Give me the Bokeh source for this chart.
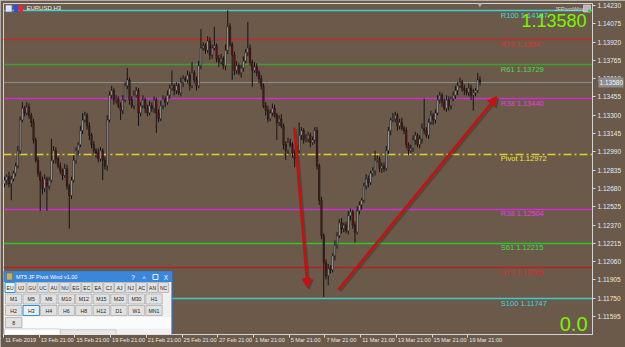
import numpy as np
from bokeh.plotting import figure
from bokeh.models import (Range1d, LinearAxis, FixedTicker, PrintfTickFormatter,
                          Arrow, NormalHead, ColumnDataSource)
from bokeh.core.properties import value
from bokeh.embed import file_html
from bokeh.resources import INLINE

# ---------------- data ----------------
symbol = "EURUSD,H3"
first_open = 1.1272
closes = [
    1.1275, 1.1278, 1.1272, 1.1276, 1.1281, 1.1287, 1.1300, 1.1326, 1.1336, 1.1332,
    1.1337, 1.1330, 1.1324, 1.1309, 1.1292, 1.1281, 1.1275, 1.1268, 1.1276, 1.1270,
    1.1275, 1.1292, 1.1300, 1.1293, 1.1287, 1.1283, 1.1279, 1.1285, 1.1270, 1.1262,
    1.1275, 1.1292, 1.1300, 1.1305, 1.1317, 1.1326, 1.1330, 1.1321, 1.1313, 1.1305,
    1.1300, 1.1298, 1.1293, 1.1300, 1.1292, 1.1287, 1.1326, 1.1347, 1.1351, 1.1343,
    1.1344, 1.1338, 1.1334, 1.1343, 1.1355, 1.1360, 1.1343, 1.1338, 1.1347, 1.1351,
    1.1332, 1.1338, 1.1343, 1.1336, 1.1332, 1.1338, 1.1336, 1.1343, 1.1332, 1.1327,
    1.1338, 1.1344, 1.1341, 1.1347, 1.1353, 1.1355, 1.1351, 1.1355, 1.1349, 1.1358,
    1.1361, 1.1360, 1.1364, 1.1355, 1.1366, 1.1360, 1.1355, 1.1372, 1.1387, 1.1389,
    1.1385, 1.1393, 1.1381, 1.1387, 1.1389, 1.1378, 1.1375, 1.1378, 1.1372, 1.1385,
    1.1405, 1.1390, 1.1381, 1.1368, 1.1372, 1.1366, 1.1370, 1.1376, 1.1383, 1.1387,
    1.1375, 1.1368, 1.1371, 1.1366, 1.1361, 1.1355, 1.1338, 1.1334, 1.1327, 1.1332,
    1.1336, 1.1330, 1.1324, 1.1327, 1.1321, 1.1305, 1.1300, 1.1307, 1.1305, 1.1298,
    1.1293, 1.1300, 1.1313, 1.1317, 1.1309, 1.1310, 1.1313, 1.1307, 1.1309, 1.1317,
    1.1287, 1.1258, 1.1228, 1.1205, 1.1194, 1.1200, 1.1199, 1.1211, 1.1220, 1.1228,
    1.1239, 1.1234, 1.1237, 1.1232, 1.1245, 1.1248, 1.1237, 1.1231, 1.1249, 1.1254,
    1.1258, 1.1270, 1.1276, 1.1273, 1.1281, 1.1283, 1.1292, 1.1293, 1.1285, 1.1287,
    1.1285, 1.1300, 1.1317, 1.1326, 1.1327, 1.1330, 1.1321, 1.1324, 1.1319, 1.1317,
    1.1305, 1.1300, 1.1302, 1.1309, 1.1313, 1.1305, 1.1310, 1.1319, 1.1317, 1.1313,
    1.1324, 1.1330, 1.1326, 1.1332, 1.1343, 1.1347, 1.1341, 1.1336, 1.1343, 1.1338,
    1.1344, 1.1347, 1.1351, 1.1355, 1.1358, 1.1353, 1.1351, 1.1349, 1.1353, 1.1347,
    1.1349, 1.1351, 1.1360, 1.1358,
]
wick_up_pips = [
    3, 2, 4, 3, 2, 3, 4, 3, 5, 2,
    4, 3, 2, 3, 2, 3, 2, 3, 4, 2,
    3, 18, 4, 3, 2, 3, 2, 4, 3, 2,
    3, 4, 3, 2, 4, 6, 3, 2, 3, 2,
    3, 2, 4, 3, 2, 3, 4, 3, 4, 2,
    3, 2, 3, 4, 3, 10, 2, 3, 4, 3,
    2, 3, 4, 2, 3, 4, 3, 3, 2, 3,
    4, 3, 2, 4, 3, 13, 2, 3, 2, 4,
    3, 2, 4, 3, 9, 2, 3, 4, 16, 3,
    2, 4, 3, 3, 16, 2, 3, 4, 2, 5,
    14, 3, 2, 3, 4, 2, 3, 4, 3, 22,
    3, 2, 4, 3, 2, 3, 2, 3, 4, 3,
    4, 3, 2, 3, 4, 2, 3, 4, 3, 2,
    3, 4, 11, 3, 2, 4, 3, 2, 3, 3,
    3, 2, 3, 2, 3, 4, 3, 2, 4, 3,
    3, 4, 2, 3, 4, 3, 2, 3, 4, 3,
    2, 3, 4, 3, 2, 3, 8, 3, 2, 3,
    3, 4, 3, 2, 5, 3, 2, 3, 4, 2,
    3, 2, 3, 4, 3, 2, 3, 4, 25, 3,
    3, 4, 2, 3, 4, 3, 2, 3, 4, 3,
    2, 3, 4, 3, 4, 2, 3, 2, 4, 3,
    3, 2, 6, 3,
]
wick_dn_pips = [
    3, 4, 3, 14, 2, 3, 2, 3, 2, 3,
    2, 3, 4, 3, 2, 3, 26, 5, 3, 21,
    3, 2, 3, 4, 2, 3, 4, 2, 3, 28,
    3, 2, 3, 4, 2, 3, 2, 3, 4, 3,
    2, 4, 3, 2, 17, 3, 4, 2, 3, 4,
    3, 2, 8, 3, 2, 3, 4, 2, 3, 2,
    11, 3, 2, 4, 3, 2, 3, 4, 17, 3,
    2, 3, 4, 2, 3, 2, 4, 3, 2, 3,
    4, 2, 3, 4, 2, 3, 4, 2, 3, 2,
    3, 2, 4, 3, 2, 3, 4, 2, 3, 4,
    3, 2, 21, 4, 3, 2, 4, 3, 2, 3,
    3, 14, 2, 3, 4, 3, 2, 4, 3, 2,
    3, 2, 15, 3, 2, 4, 8, 3, 2, 4,
    7, 3, 2, 4, 3, 2, 3, 4, 2, 3,
    3, 4, 3, 29, 3, 8, 3, 2, 4, 3,
    2, 4, 3, 2, 3, 4, 3, 9, 2, 3,
    4, 2, 3, 4, 2, 3, 4, 2, 3, 4,
    3, 2, 3, 4, 2, 3, 4, 3, 2, 3,
    3, 4, 2, 3, 4, 2, 3, 4, 3, 2,
    3, 2, 4, 3, 2, 3, 4, 2, 3, 4,
    3, 2, 3, 4, 2, 3, 4, 2, 3, 4,
    13, 3, 2, 3,
]
current_price = 1.13580
spread = 0.0

price_ticks = [1.11595, 1.11750, 1.11905, 1.12060, 1.12215, 1.12370, 1.12525, 1.12680,
               1.12835, 1.12990, 1.13145, 1.13300, 1.13455, 1.13610, 1.13765, 1.13920,
               1.14075, 1.14230]
time_labels = ["11 Feb 2019", "13 Feb 21:00", "15 Feb 21:00", "19 Feb 21:00", "21 Feb 21:00",
               "25 Feb 21:00", "27 Feb 21:00", "1 Mar 21:00", "5 Mar 21:00", "7 Mar 21:00",
               "11 Mar 21:00", "13 Mar 21:00", "15 Mar 21:00", "19 Mar 21:00"]
time_label_bars = [0, 16, 32, 48, 64, 80, 96, 112, 128, 144, 160, 176, 192, 208]

level_texts = ["R100 1.14187", "R78 1.1394", "R61 1.13729", "R38 1.13440", "Pivot 1.12972",
               "R38 1.12504", "S61 1.12215", "S78 1.12009", "S100 1.11747"]
level_values = [1.14187, 1.13940, 1.13729, 1.13440, 1.12972, 1.12504, 1.12215, 1.12009, 1.11747]

arrow_x0 = [129.8, 149.6]
arrow_y0 = [1.13196, 1.11824]
arrow_x1 = [135.7, 220.5]
arrow_y1 = [1.11841, 1.13459]

pair_buttons = ["EU", "UJ", "GU", "UC", "AU", "NU", "EG", "EC", "EA", "CJ", "AJ", "NJ", "AC", "AN", "NC"]
period_row1 = ["M1", "M5", "M6", "M10", "M12", "M15", "M20", "M30", "H1"]
period_row2 = ["H2", "H3", "H4", "H6", "H8", "H12", "D1", "W1", "MN1"]
extra_row = ["8"]
dialog_title = "MT5 JF Pivot Wind v1.00"
indicator_name = "JFPivotWind"

# ---------------- styles ----------------
BROWN = "#6B5A4A"
FONT = "Liberation Sans"
LEVEL_LINE = ["#3ED0D0", "#B83026", "#3E9E30", "#D02ED0", "#E6D22A", "#D02ED0", "#2EC42E", "#B82020", "#3ECACA"]
LEVEL_TEXT = ["#40D8D8", "#D23A30", "#50DA50", "#E23CE2", "#F2E446", "#E23CE2", "#46DA46", "#D42C2C", "#40D8D8"]
RED = "#C81010"

FW, FH = 591, 331
p = figure(width=625, height=347, x_range=Range1d(-0.45, 263.4), y_range=Range1d(1.11443, 1.14247),
           output_backend="svg", toolbar_location=None, x_axis_location=None, y_axis_location=None,
           background_fill_color=BROWN, border_fill_color=BROWN,
           min_border_left=3, min_border_top=3, min_border_right=31, min_border_bottom=13)
p.grid.visible = False
p.outline_line_color = "#D4D4D4"
p.outline_line_width = 1
p.styles = {"outline": "2px solid #C9C9C9", "outline-offset": "-2px"}
p.extra_x_ranges = {"px": Range1d(0, FW)}
p.extra_y_ranges = {"px": Range1d(FH, 0)}

# axes
yax = LinearAxis(ticker=FixedTicker(ticks=price_ticks, minor_ticks=[]),
                 formatter=PrintfTickFormatter(format="%.5f"),
                 major_label_text_font=FONT, major_label_text_font_size="6.5px",
                 major_label_text_color="#E8E8E8", major_tick_out=3, major_tick_in=0,
                 minor_tick_out=0, minor_tick_in=0, axis_line_color="#D4D4D4",
                 major_tick_line_color="#D4D4D4", major_label_standoff=2)
p.add_layout(yax, "right")

# current price tag: an outer axis whose single thick inward tick forms the grey box,
# with its label pulled back over the price scale
tag_ax = LinearAxis(ticker=FixedTicker(ticks=[current_price], minor_ticks=[]),
                    formatter=PrintfTickFormatter(format="%.5f"),
                    major_label_text_font=FONT, major_label_text_font_size="6.5px",
                    major_label_text_color="#F4F4F4", major_tick_out=0, major_tick_in=25,
                    major_tick_line_width=10, major_tick_line_color="#8C8C8C",
                    major_tick_line_cap="butt",
                    minor_tick_out=0, minor_tick_in=0, axis_line_color=None,
                    major_label_standoff=-24)
p.add_layout(tag_ax, "right")

tick_pos = [b - 0.45 for b in time_label_bars]
xt = LinearAxis(ticker=FixedTicker(ticks=tick_pos, minor_ticks=[]),
                major_label_text_font_size="1px", major_label_text_alpha=0,
                major_tick_out=3, major_tick_in=0, minor_tick_out=0, minor_tick_in=0,
                axis_line_color=None, major_tick_line_color="#D4D4D4", major_label_standoff=0)
p.add_layout(xt, "below")

CW = {" ": 0.278, ":": 0.278, "F": 0.611, "e": 0.556, "b": 0.556, "M": 0.833, "a": 0.556, "r": 0.333}
TFS = 5.6
centers, overrides = [], {}
for lab, tp in zip(time_labels, tick_pos):
    w = sum(CW.get(ch, 0.556) for ch in lab) * TFS
    cpos = round(tp + (w / 2 + 1.5) / 2.24, 3)
    centers.append(cpos)
    overrides[cpos] = lab
xl = LinearAxis(ticker=FixedTicker(ticks=centers, minor_ticks=[]), major_label_overrides=overrides,
                major_label_text_font=FONT, major_label_text_font_size=f"{TFS}px",
                major_label_text_color="#E6E6E6", major_tick_out=0, major_tick_in=0,
                minor_tick_out=0, minor_tick_in=0, axis_line_color=None,
                major_tick_line_color=None, major_label_standoff=-1)
p.add_layout(xl, "below")

# level lines
solid_vals = [v for i, v in enumerate(level_values) if i != 4]
solid_cols = [c for i, c in enumerate(LEVEL_LINE) if i != 4]
p.hspan(y=solid_vals, line_color=solid_cols, line_width=1.3)
p.hspan(y=[level_values[4]], line_color=LEVEL_LINE[4], line_width=1.3, line_dash="8 3 2 3")
p.hspan(y=[current_price], line_color="#8E8E8E", line_width=1)

# candles
n = len(closes)
idx = np.arange(n)
c = np.array(closes)
o = np.array([first_open] + closes[:-1])
pip = 0.0001
hi = np.maximum(o, c) + np.array(wick_up_pips) * pip
lo = np.minimum(o, c) - np.array(wick_dn_pips) * pip
src = ColumnDataSource(dict(x=idx, top=np.maximum(o, c), bottom=np.minimum(o, c), high=hi, low=lo,
                            fill=["#D4D4D4" if cc >= oo else "#7A1212" for oo, cc in zip(o, c)]))
p.segment(x0="x", y0="high", x1="x", y1="low", source=src, line_color="#141414", line_width=1)
p.vbar(x="x", top="top", bottom="bottom", width=0.62, fill_color="fill", line_color="#141414",
       line_width=0.6, source=src)

# level labels
p.text(x=[499] * len(level_texts), y=level_values, text=level_texts, x_range_name="px",
       text_color=LEVEL_TEXT, text_font=value(FONT), text_font_size="7.5px",
       text_baseline="top", y_offset=0)

# big price + spread
p.text(x=[585], y=[17], text=[f"{current_price:.5f}"], x_range_name="px", y_range_name="px",
       text_color="#7CF200", text_font=value(FONT), text_font_size="18px",
       text_align="right", text_baseline="alphabetic")
p.text(x=[586], y=[320], text=[f"{spread:.1f}"], x_range_name="px", y_range_name="px",
       text_color="#7CF200", text_font=value(FONT), text_font_size="20px",
       text_align="right", text_baseline="alphabetic")

# indicator name + icon top right
p.text(x=[553], y=[5], text=[indicator_name], x_range_name="px", y_range_name="px",
       text_color="#D8D8D8", text_font=value(FONT), text_font_size="5.5px",
       text_align="left", text_baseline="middle")
p.quad(left=[582], right=[589], top=[1.5], bottom=[8.5], x_range_name="px", y_range_name="px",
       fill_color="#B8B8B8", line_color="#E0E0E0", line_width=0.6)
p.scatter(x=[588], y=[7.5], x_range_name="px", y_range_name="px", size=3.5,
          fill_color="#3CC83C", line_color=None)
p.scatter(x=[478], y=[1.2], x_range_name="px", y_range_name="px", marker="inverted_triangle",
          size=5, fill_color="#A8A8A8", line_color=None)

# symbol title top left
p.quad(left=[2, 10.5, 15], right=[8.5, 15, 19.5], top=[1.5, 1.5, 1.5], bottom=[8.5, 8.5, 8.5],
       x_range_name="px", y_range_name="px", fill_color=["#E4E4F4", "#2E4FD6", "#D83030"],
       line_color=["#5A6FC8", None, None], line_width=0.7)
p.text(x=[23], y=[4.8], text=[symbol], x_range_name="px", y_range_name="px",
       text_color="#F0F0F0", text_font=value(FONT), text_font_size="6px",
       text_align="left", text_baseline="middle")

# arrows (shadow then arrow)
for i in range(len(arrow_x0)):
    p.add_layout(Arrow(end=NormalHead(size=9, fill_color="#3A3029", line_color="#3A3029",
                                      fill_alpha=0.45, line_alpha=0.45),
                       x_start=arrow_x0[i] + 0.8, y_start=arrow_y0[i] - 0.00014,
                       x_end=arrow_x1[i] + 0.8, y_end=arrow_y1[i] - 0.00014,
                       line_color="#3A3029", line_alpha=0.45, line_width=2.5))
    p.add_layout(Arrow(end=NormalHead(size=9, fill_color=RED, line_color=RED),
                       x_start=arrow_x0[i], y_start=arrow_y0[i], x_end=arrow_x1[i], y_end=arrow_y1[i],
                       line_color=RED, line_width=2.5))

# ---------------- pivot window (screen-pixel chrome) ----------------
PX = dict(x_range_name="px", y_range_name="px")
p.quad(left=[0], right=[169], top=[268], bottom=[FH + 2], fill_color="#F0F0F0",
       line_color="#2B79D6", line_width=1, **PX)
p.quad(left=[0], right=[169], top=[268], bottom=[278.5], fill_color="#3A86DA", line_color=None, **PX)
p.quad(left=[3], right=[9], top=[269.5], bottom=[276.5], fill_color="#C9B24A", line_color="#6A6A6A",
       line_width=0.6, **PX)
p.text(x=[12.5], y=[273.3], text=[dialog_title], text_color="#FFFFFF", text_font=value(FONT),
       text_font_size="5.5px", text_baseline="middle", **PX)
p.text(x=[130, 141, 163], y=[273.5, 274.5, 273.5], text=["?", "^", "X"], text_color="#FFFFFF",
       text_font=value(FONT), text_font_size="6.5px", text_align="center", text_baseline="middle", **PX)
p.quad(left=[150], right=[155], top=[271], bottom=[276], fill_color=None, line_color="#FFFFFF",
       line_width=0.9, **PX)


def button_row(labels, left0, step, width, top, bottom, selected, fs):
    lefts = [left0 + step * k for k in range(len(labels))]
    rights = [l + width for l in lefts]
    fills = ["#E5F1FB" if lab == selected else "#E1E1E1" for lab in labels]
    lines = ["#0078D7" if lab == selected else "#ADADAD" for lab in labels]
    p.quad(left=lefts, right=rights, top=[top] * len(labels), bottom=[bottom] * len(labels),
           fill_color=fills, line_color=lines, line_width=0.8, **PX)
    p.text(x=[(l + r) / 2 for l, r in zip(lefts, rights)], y=[(top + bottom) / 2 + 0.3] * len(labels),
           text=labels, text_color="#1E1E1E", text_font=value(FONT), text_font_size=fs,
           text_align="center", text_baseline="middle", **PX)


button_row(pair_buttons, 1.5, 11.0, 10.2, 279, 289, "EU", "5px")
p.quad(left=[19.5], right=[168], top=[313.5], bottom=[325], fill_color="#FBFBFB", line_color=None, **PX)
button_row(period_row1, 2, 17.6, 16.4, 290.5, 300.5, None, "5.2px")
button_row(period_row2, 2, 17.6, 16.4, 302, 312, "H3", "5.2px")
button_row(extra_row, 2, 17.6, 16.4, 314, 324, None, "5.2px")
p.quad(left=[1, 57], right=[57, 113], top=[325.5, 326.2], bottom=[FH + 2, FH + 2],
       fill_color=["#FFFFFF", "#E6E6E6"], line_color="#C4C4C4", line_width=0.7, **PX)

open("out.html", "w").write(file_html(p, INLINE))
